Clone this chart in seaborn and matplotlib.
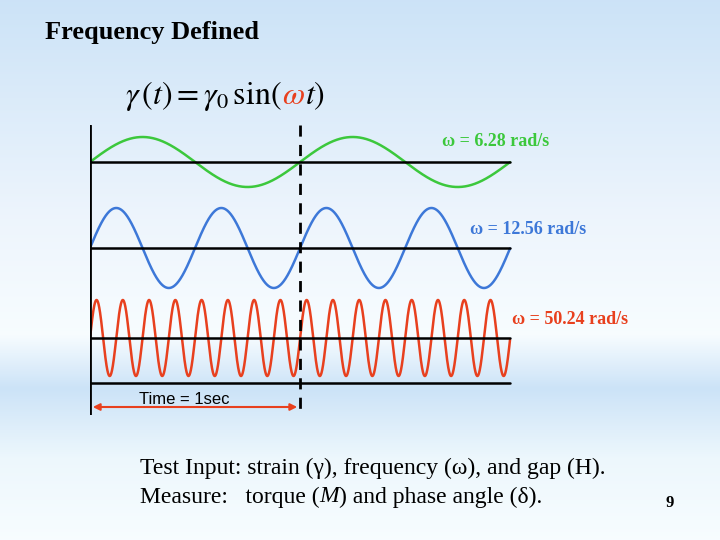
import numpy as np
import matplotlib
matplotlib.use("Agg")
import matplotlib.pyplot as plt
import seaborn as sns

sns.set_style("white")
plt.rcParams['font.family'] = ['Liberation Serif', 'DejaVu Serif']
plt.rcParams['mathtext.fontset'] = 'stix'
plt.rcParams['text.color'] = 'black'

omegas = [6.28, 12.56, 50.24]
labels = ["ω = 6.28 rad/s", "ω = 12.56 rad/s", "ω = 50.24 rad/s"]
colors = ["#3cc83c", "#3d78d8", "#e8401e"]
baselines = [162, 248, 338]
amps = [25, 40, 38]
extra_lines = [383]

fig = plt.figure(figsize=(7.2, 5.4), dpi=100)
bg = fig.add_axes([0, 0, 1, 1])
bg.set_xlim(0, 720); bg.set_ylim(540, 0); bg.axis("off")
yy = np.linspace(0, 1, 300)
r = np.interp(yy, [0, 0.4, 0.62, 0.72, 0.85, 1], [0.80, 0.93, 0.97, 0.80, 0.93, 0.97])
g = np.interp(yy, [0, 0.4, 0.62, 0.72, 0.85, 1], [0.89, 0.96, 0.99, 0.89, 0.97, 0.99])
b = np.interp(yy, [0, 0.4, 0.62, 0.72, 0.85, 1], [0.97, 0.99, 1.0, 0.97, 0.99, 1.0])
img = np.stack([r, g, b], axis=1)[:, None, :].repeat(2, axis=1)
bg.imshow(img, extent=[0, 720, 540, 0], aspect="auto")
renderer = fig.canvas.get_renderer()

def chain(x, y, parts, fs):
    for s, c, st in parts:
        tx = bg.text(x, y, s, fontsize=fs, va="center", color=c, style=st)
        ext = tx.get_window_extent(renderer)
        x = x + ext.width * 720 / fig.bbox.width

bg.text(45, 32, "Frequency Defined", fontsize=19, fontweight="bold", va="center", color="black")
chain(125, 96, [(r"$\gamma\,(t) = \gamma_0\,\mathrm{sin}($", "black", "normal"),
                (r"$\omega$", "#e8401e", "normal"),
                (r"$t)$", "black", "normal")], 23)
bg.text(140, 468, "Test Input: strain (γ), frequency (ω), and gap (H).", fontsize=17, va="center", color="black")
chain(140, 497, [("Measure:   torque (", "black", "normal"), ("M", "black", "italic"),
                 (") and phase angle (δ).", "black", "normal")], 17)
bg.text(670, 503, "9", fontsize=12, fontweight="bold", va="center", ha="center")

ax = fig.add_axes([90/720, 1-415/540, (515-90)/720, (415-125)/540])
ax.set_xlim(0, 425/210); ax.set_ylim(415, 125); ax.axis("off")
t = np.linspace(0, 2.0, 3000)
for w, base, A, c in zip(omegas, baselines, amps, colors):
    ax.plot(t, base - A*np.sin(w*t), color=c, lw=1.8)
    ax.plot([0, 2.0], [base, base], color="black", lw=1.8)
for y in extra_lines:
    ax.plot([0, 2.0], [y, y], color="black", lw=1.8)
ax.plot([0, 0], [125, 415], color="black", lw=2)
ax.plot([1, 1], [125, 415], color="black", lw=2, ls=(0, (4, 3)))
ax.annotate("", xy=(0, 407), xytext=(1, 407),
            arrowprops=dict(arrowstyle="<|-|>", color="#e8401e", lw=1.5))
ax.text(0.45, 399, "Time = 1sec", fontsize=12, ha="center", va="center", family="Liberation Sans")

bg.text(442, 142, labels[0], color=colors[0], fontsize=13, fontweight="bold", va="center")
bg.text(470, 229, labels[1], color=colors[1], fontsize=13, fontweight="bold", va="center")
bg.text(512, 320, labels[2], color=colors[2], fontsize=13, fontweight="bold", va="center")

fig.savefig("out.png", dpi=100)
